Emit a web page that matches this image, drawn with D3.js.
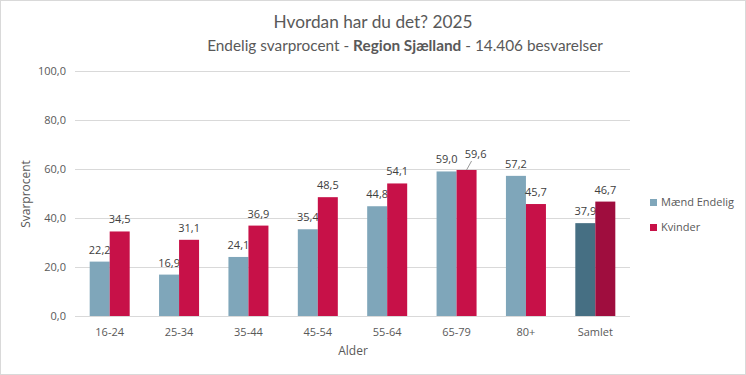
<!DOCTYPE html>
<html><head><meta charset="utf-8">
<script src="https://cdn.jsdelivr.net/npm/d3@7"></script>
<style>body{margin:0;background:#fff}svg{display:block;font-family:"Open Sans","Noto Sans",sans-serif}</style>
</head><body>
<script>
const categories = ["16-24","25-34","35-44","45-54","55-64","65-79","80+","Samlet"];
const maend = [22.2,16.9,24.1,35.4,44.8,59.0,57.2,37.9];
const kvinder = [34.5,31.1,36.9,48.5,54.1,59.6,45.7,46.7];
const seriesNames = ["Mænd Endelig","Kvinder"];
const yTicks = [0,20,40,60,80,100];

const W=746,H=375;
const svg=d3.select("body").append("svg").attr("width",W).attr("height",H);
svg.append("rect").attr("x",0.5).attr("y",0.5).attr("width",W-1).attr("height",H-1).attr("fill","#fff").attr("stroke","#d9d9d9");

const x=d3.scaleBand().domain(categories).range([75,630]);
const y=d3.scaleLinear().domain([0,100]).range([316,71]);
const bw=20;
const fmt=v=>d3.format(".1f")(v).replace(".",",");

// title
const tf='"Lato","Open Sans",sans-serif';
const t1=svg.append("text").attr("x",373).attr("y",28).attr("text-anchor","middle").attr("font-family",tf).attr("font-size",17).attr("fill","#595959").text("Hvordan har du det? 2025");
const t2=svg.append("text").attr("x",405).attr("y",51).attr("text-anchor","middle").attr("font-family",tf).attr("font-size",17).attr("fill","#595959");
t2.append("tspan").text("Endelig svarprocent - ");
t2.append("tspan").attr("font-weight","bold").text("Region Sjælland");
t2.append("tspan").text(" - 14.406 besvarelser");
// fit widths to reference
[[t1,199],[t2,396]].forEach(([t,w])=>{
  const len=t.node().getComputedTextLength();
  if(len>0) t.attr("font-size",17*w/len);
});

// grid
svg.append("g").selectAll("line").data(yTicks).join("line")
 .attr("x1",75).attr("x2",630).attr("y1",d=>Math.round(y(d))+0.5).attr("y2",d=>Math.round(y(d))+0.5)
 .attr("stroke","#d9d9d9").attr("stroke-width",1);
svg.append("g").selectAll("text").data(yTicks).join("text")
 .attr("x",66).attr("y",d=>y(d)+4).attr("text-anchor","end").attr("font-size",11).attr("fill","#595959")
 .text(d=>fmt(d));

// x labels
svg.append("g").selectAll("text").data(categories).join("text")
 .attr("x",d=>x(d)+x.bandwidth()/2).attr("y",336).attr("text-anchor","middle").attr("font-size",11).attr("fill","#595959").text(d=>d);

svg.append("text").attr("x",353).attr("y",355).attr("text-anchor","middle").attr("font-size",12).attr("fill","#595959").text("Alder");
svg.append("text").attr("transform","translate(30,194) rotate(-90)").attr("text-anchor","middle").attr("font-size",12).attr("fill","#595959").text("Svarprocent");

const colB=(d,i)=>categories[i]==="Samlet"?"#466f83":"#7fa6ba";
const colR=(d,i)=>categories[i]==="Samlet"?"#9f0d3e":"#c71148";

// blue bars
svg.append("g").selectAll("rect").data(maend).join("rect")
 .attr("x",(d,i)=>x(categories[i])+x.bandwidth()/2-bw).attr("width",bw)
 .attr("y",d=>y(d)).attr("height",d=>y(0)-y(d)).attr("fill",colB);
svg.append("g").selectAll("text").data(maend).join("text")
 .attr("x",(d,i)=>x(categories[i])+x.bandwidth()/2-bw/2).attr("y",d=>y(d)-8)
 .attr("text-anchor","middle").attr("font-size",11).attr("fill","#404040").text(d=>fmt(d));
// red bars
svg.append("g").selectAll("rect").data(kvinder).join("rect")
 .attr("x",(d,i)=>x(categories[i])+x.bandwidth()/2).attr("width",bw)
 .attr("y",d=>y(d)).attr("height",d=>y(0)-y(d)).attr("fill",colR);
const rl=svg.append("g");
kvinder.forEach((d,i)=>{
  const cx=x(categories[i])+x.bandwidth()/2+bw/2;
  if(categories[i]==="65-79"){
    rl.append("line").attr("x1",cx+5).attr("y1",y(d)-9).attr("x2",cx).attr("y2",y(d)).attr("stroke","#7f7f7f").attr("stroke-width",0.8);
    rl.append("text").attr("x",cx+9).attr("y",y(d)-12).attr("text-anchor","middle").attr("font-size",11).attr("fill","#404040").text(fmt(d));
  } else {
    rl.append("text").attr("x",cx).attr("y",y(d)-8).attr("text-anchor","middle").attr("font-size",11).attr("fill","#404040").text(fmt(d));
  }
});

// legend
const lg=svg.append("g");
seriesNames.forEach((n,i)=>{
  lg.append("rect").attr("x",650).attr("y",199+i*25).attr("width",7).attr("height",7).attr("fill",i===0?"#7fa6ba":"#c71148");
  lg.append("text").attr("x",661).attr("y",206+i*25).attr("font-size",11).attr("fill","#595959").text(n);
});
</script>
</body></html>
